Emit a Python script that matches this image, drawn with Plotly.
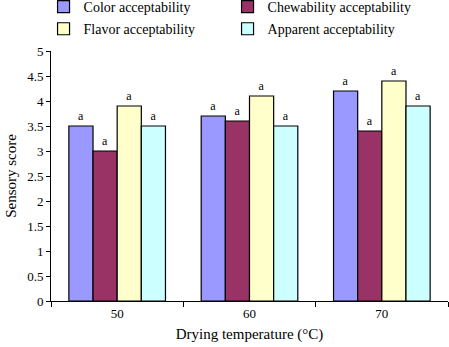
import plotly.graph_objects as go

categories = ["50", "60", "70"]
color_acc = [3.5, 3.7, 4.2]
chew_acc = [3.0, 3.6, 3.4]
flavor_acc = [3.9, 4.1, 4.4]
apparent_acc = [3.5, 3.5, 3.9]
sig_labels = ["a", "a", "a"]

series = [
    ("Color acceptability", color_acc, "#9999FF", "legend"),
    ("Chewability acceptability", chew_acc, "#993366", "legend"),
    ("Flavor acceptability", flavor_acc, "#FFFFCC", "legend2"),
    ("Apparent acceptability", apparent_acc, "#CCFFFF", "legend2"),
]

font = "Liberation Serif, Times New Roman, serif"
fig = go.Figure()
for name, vals, col, lg in series:
    fig.add_trace(go.Bar(
        x=categories, y=vals, name=name, legend=lg,
        marker=dict(color=col, line=dict(color="black", width=1.2)),
        text=sig_labels, textposition="outside", cliponaxis=False,
        textfont=dict(family=font, size=12, color="black"),
    ))

leg_common = dict(orientation="h", x=0.097, xref="container", yref="container",
                  yanchor="middle", xanchor="left", entrywidth=139,
                  font=dict(family=font, size=14), itemwidth=30,
                  bgcolor="rgba(0,0,0,0)")

fig.update_layout(
    width=449, height=347,
    margin=dict(l=51, r=1, t=51, b=46, autoexpand=False),
    paper_bgcolor="white", plot_bgcolor="white",
    barmode="group", bargap=0.27, bargroupgap=0,
    font=dict(family=font, size=13, color="black"),
    legend=dict(y=0.980, **leg_common),
    legend2=dict(y=0.916, **leg_common),
    xaxis=dict(showline=True, linecolor="black", linewidth=1, ticks="outside",
               ticklen=5, tickcolor="black", tickson="boundaries",
               title=dict(text="Drying temperature (°C)", font=dict(size=15), standoff=8),
               tickfont=dict(size=13)),
    yaxis=dict(range=[0, 5], dtick=0.5, showline=True, linecolor="black", linewidth=1,
               ticks="outside", ticklen=4, tickcolor="black", showgrid=False,
               zeroline=False,
               title=dict(text="Sensory score", font=dict(size=15), standoff=6),
               tickfont=dict(size=13)),
)
fig.write_html("out.html")
